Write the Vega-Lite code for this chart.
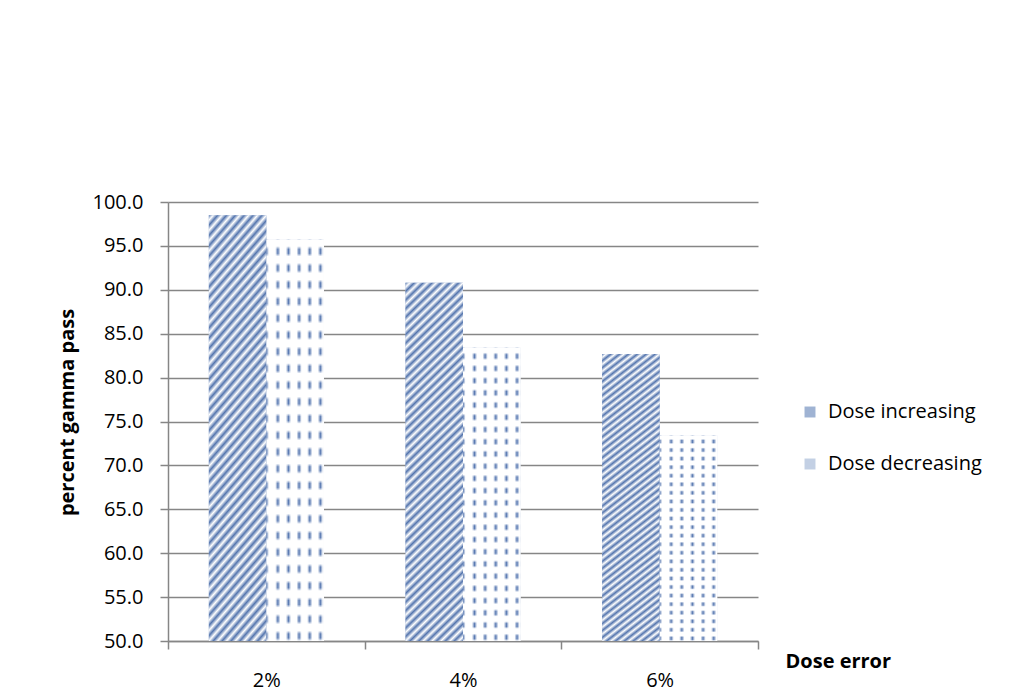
{
  "$schema": "https://vega.github.io/schema/vega-lite/v6.json",
  "width": 590,
  "height": 439,
  "autosize": {"type": "none"},
  "padding": {"left": 168, "top": 202, "right": 257, "bottom": 59},
  "background": "white",
  "config": {
    "font": "Open Sans",
    "view": {"stroke": null},
    "axis": {"labelColor": "#000000", "titleColor": "#000000"},
    "legend": {"labelColor": "#000000"}
  },
  "data": {
    "values": [
      {"error": "2%", "series": "Dose increasing", "pass": 98.5},
      {"error": "2%", "series": "Dose decreasing", "pass": 95.7},
      {"error": "4%", "series": "Dose increasing", "pass": 90.8},
      {"error": "4%", "series": "Dose decreasing", "pass": 83.4},
      {"error": "6%", "series": "Dose increasing", "pass": 82.7},
      {"error": "6%", "series": "Dose decreasing", "pass": 73.4}
    ]
  },
  "encoding": {
    "x": {
      "field": "error",
      "type": "nominal",
      "sort": ["2%", "4%", "6%"],
      "scale": {"paddingInner": 0, "paddingOuter": 0},
      "axis": {
        "title": "Dose error",
        "titleFontSize": 20,
        "titleFontWeight": "bold",
        "titleX": 617,
        "titleY": 26,
        "titleAlign": "left",
        "titleBaseline": "alphabetic",
        "labelFontSize": 20,
        "labelAngle": 0,
        "labelPadding": 21,
        "tickBand": "extent",
        "tickSize": 8,
        "tickColor": "#868686",
        "tickWidth": 1.5,
        "domainColor": "#868686",
        "domainWidth": 1.5,
        "grid": false
      }
    },
    "xOffset": {
      "field": "series",
      "sort": ["Dose increasing", "Dose decreasing"],
      "scale": {"paddingInner": 0, "paddingOuter": 0.71}
    },
    "y": {
      "field": "pass",
      "type": "quantitative",
      "scale": {"domain": [50, 100], "zero": false, "nice": false},
      "axis": {
        "title": "percent gamma pass",
        "titleFontSize": 20,
        "titleFontWeight": "bold",
        "titleX": -91,
        "titleY": 210,
        "titleAngle": -90,
        "titleAlign": "center",
        "titleBaseline": "bottom",
        "values": [50, 55, 60, 65, 70, 75, 80, 85, 90, 95, 100],
        "format": ".1f",
        "labelFontSize": 20,
        "labelPadding": 17,
        "tickSize": 8,
        "tickColor": "#868686",
        "tickWidth": 1.5,
        "domainColor": "#868686",
        "domainWidth": 1.5,
        "grid": true,
        "gridColor": "#868686",
        "gridWidth": 1.5
      }
    },
    "y2": {"datum": 50}
  },
  "layer": [
    {
      "mark": {"type": "bar"},
      "encoding": {
        "fill": {
          "field": "series",
          "type": "nominal",
          "sort": ["Dose increasing", "Dose decreasing"],
          "scale": {"range": ["#9fb3d3", "#c3d0e4"]},
          "legend": {
            "orient": "none",
            "legendX": 632,
            "legendY": 200,
            "title": null,
            "padding": 0,
            "symbolType": "square",
            "symbolSize": 120,
            "symbolStrokeWidth": 0,
            "labelFontSize": 20,
            "labelOffset": 8,
            "rowPadding": 32
          }
        }
      }
    },
    {
      "mark": {"type": "bar"},
      "encoding": {
        "fill": {
          "condition": {
            "test": "datum.series === 'Dose increasing'",
            "value": {
              "gradient": "linear",
              "x1": 0, "y1": 0, "x2": 0.1764, "y2": 1.129,
              "stops": [
                {"offset": 0, "color": "#5475ae"}, {"offset": 0.0104, "color": "#ffffff"},
                {"offset": 0.0208, "color": "#5475ae"}, {"offset": 0.0313, "color": "#ffffff"},
                {"offset": 0.0417, "color": "#5475ae"}, {"offset": 0.0521, "color": "#ffffff"},
                {"offset": 0.0625, "color": "#5475ae"}, {"offset": 0.0729, "color": "#ffffff"},
                {"offset": 0.0833, "color": "#5475ae"}, {"offset": 0.0938, "color": "#ffffff"},
                {"offset": 0.1042, "color": "#5475ae"}, {"offset": 0.1146, "color": "#ffffff"},
                {"offset": 0.125, "color": "#5475ae"}, {"offset": 0.1354, "color": "#ffffff"},
                {"offset": 0.1458, "color": "#5475ae"}, {"offset": 0.1563, "color": "#ffffff"},
                {"offset": 0.1667, "color": "#5475ae"}, {"offset": 0.1771, "color": "#ffffff"},
                {"offset": 0.1875, "color": "#5475ae"}, {"offset": 0.1979, "color": "#ffffff"},
                {"offset": 0.2083, "color": "#5475ae"}, {"offset": 0.2188, "color": "#ffffff"},
                {"offset": 0.2292, "color": "#5475ae"}, {"offset": 0.2396, "color": "#ffffff"},
                {"offset": 0.25, "color": "#5475ae"}, {"offset": 0.2604, "color": "#ffffff"},
                {"offset": 0.2708, "color": "#5475ae"}, {"offset": 0.2813, "color": "#ffffff"},
                {"offset": 0.2917, "color": "#5475ae"}, {"offset": 0.3021, "color": "#ffffff"},
                {"offset": 0.3125, "color": "#5475ae"}, {"offset": 0.3229, "color": "#ffffff"},
                {"offset": 0.3333, "color": "#5475ae"}, {"offset": 0.3438, "color": "#ffffff"},
                {"offset": 0.3542, "color": "#5475ae"}, {"offset": 0.3646, "color": "#ffffff"},
                {"offset": 0.375, "color": "#5475ae"}, {"offset": 0.3854, "color": "#ffffff"},
                {"offset": 0.3958, "color": "#5475ae"}, {"offset": 0.4063, "color": "#ffffff"},
                {"offset": 0.4167, "color": "#5475ae"}, {"offset": 0.4271, "color": "#ffffff"},
                {"offset": 0.4375, "color": "#5475ae"}, {"offset": 0.4479, "color": "#ffffff"},
                {"offset": 0.4583, "color": "#5475ae"}, {"offset": 0.4688, "color": "#ffffff"},
                {"offset": 0.4792, "color": "#5475ae"}, {"offset": 0.4896, "color": "#ffffff"},
                {"offset": 0.5, "color": "#5475ae"}, {"offset": 0.5104, "color": "#ffffff"},
                {"offset": 0.5208, "color": "#5475ae"}, {"offset": 0.5313, "color": "#ffffff"},
                {"offset": 0.5417, "color": "#5475ae"}, {"offset": 0.5521, "color": "#ffffff"},
                {"offset": 0.5625, "color": "#5475ae"}, {"offset": 0.5729, "color": "#ffffff"},
                {"offset": 0.5833, "color": "#5475ae"}, {"offset": 0.5938, "color": "#ffffff"},
                {"offset": 0.6042, "color": "#5475ae"}, {"offset": 0.6146, "color": "#ffffff"},
                {"offset": 0.625, "color": "#5475ae"}, {"offset": 0.6354, "color": "#ffffff"},
                {"offset": 0.6458, "color": "#5475ae"}, {"offset": 0.6563, "color": "#ffffff"},
                {"offset": 0.6667, "color": "#5475ae"}, {"offset": 0.6771, "color": "#ffffff"},
                {"offset": 0.6875, "color": "#5475ae"}, {"offset": 0.6979, "color": "#ffffff"},
                {"offset": 0.7083, "color": "#5475ae"}, {"offset": 0.7188, "color": "#ffffff"},
                {"offset": 0.7292, "color": "#5475ae"}, {"offset": 0.7396, "color": "#ffffff"},
                {"offset": 0.75, "color": "#5475ae"}, {"offset": 0.7604, "color": "#ffffff"},
                {"offset": 0.7708, "color": "#5475ae"}, {"offset": 0.7813, "color": "#ffffff"},
                {"offset": 0.7917, "color": "#5475ae"}, {"offset": 0.8021, "color": "#ffffff"},
                {"offset": 0.8125, "color": "#5475ae"}, {"offset": 0.8229, "color": "#ffffff"},
                {"offset": 0.8333, "color": "#5475ae"}, {"offset": 0.8438, "color": "#ffffff"},
                {"offset": 0.8542, "color": "#5475ae"}, {"offset": 0.8646, "color": "#ffffff"},
                {"offset": 0.875, "color": "#5475ae"}, {"offset": 0.8854, "color": "#ffffff"},
                {"offset": 0.8958, "color": "#5475ae"}, {"offset": 0.9063, "color": "#ffffff"},
                {"offset": 0.9167, "color": "#5475ae"}, {"offset": 0.9271, "color": "#ffffff"},
                {"offset": 0.9375, "color": "#5475ae"}, {"offset": 0.9479, "color": "#ffffff"},
                {"offset": 0.9583, "color": "#5475ae"}, {"offset": 0.9688, "color": "#ffffff"},
                {"offset": 0.9792, "color": "#5475ae"}, {"offset": 0.9896, "color": "#ffffff"},
                {"offset": 1, "color": "#5475ae"}
              ]
            }
          },
          "value": {
            "gradient": "linear",
            "x1": 0, "y1": 0, "x2": 1, "y2": 0,
            "stops": [
              {"offset": 0, "color": "#5a7ab2"}, {"offset": 0.045, "color": "#ffffff"},
              {"offset": 0.155, "color": "#ffffff"}, {"offset": 0.2, "color": "#5a7ab2"},
              {"offset": 0.245, "color": "#ffffff"}, {"offset": 0.34, "color": "#ffffff"},
              {"offset": 0.385, "color": "#5a7ab2"}, {"offset": 0.43, "color": "#ffffff"},
              {"offset": 0.525, "color": "#ffffff"}, {"offset": 0.57, "color": "#5a7ab2"},
              {"offset": 0.615, "color": "#ffffff"}, {"offset": 0.71, "color": "#ffffff"},
              {"offset": 0.755, "color": "#5a7ab2"}, {"offset": 0.8, "color": "#ffffff"},
              {"offset": 0.895, "color": "#ffffff"}, {"offset": 0.94, "color": "#5a7ab2"},
              {"offset": 0.985, "color": "#ffffff"}, {"offset": 1, "color": "#ffffff"}
            ]
          }
        }
      }
    },
    {
      "transform": [{"filter": "datum.series === 'Dose decreasing'"}],
      "mark": {
        "type": "bar",
        "fill": {
          "gradient": "linear",
          "x1": 0, "y1": 0, "x2": 0, "y2": 1,
          "stops": [
            {"offset": 0, "color": "#ffffff"}, {"offset": 0.016, "color": "#ffffff"}, {"offset": 0.024, "color": "rgba(255,255,255,0)"}, {"offset": 0.034, "color": "rgba(255,255,255,0)"},
            {"offset": 0.0417, "color": "#ffffff"}, {"offset": 0.0577, "color": "#ffffff"}, {"offset": 0.0657, "color": "rgba(255,255,255,0)"}, {"offset": 0.0757, "color": "rgba(255,255,255,0)"},
            {"offset": 0.0833, "color": "#ffffff"}, {"offset": 0.0993, "color": "#ffffff"}, {"offset": 0.1073, "color": "rgba(255,255,255,0)"}, {"offset": 0.1173, "color": "rgba(255,255,255,0)"},
            {"offset": 0.125, "color": "#ffffff"}, {"offset": 0.141, "color": "#ffffff"}, {"offset": 0.149, "color": "rgba(255,255,255,0)"}, {"offset": 0.159, "color": "rgba(255,255,255,0)"},
            {"offset": 0.1667, "color": "#ffffff"}, {"offset": 0.1827, "color": "#ffffff"}, {"offset": 0.1907, "color": "rgba(255,255,255,0)"}, {"offset": 0.2007, "color": "rgba(255,255,255,0)"},
            {"offset": 0.2083, "color": "#ffffff"}, {"offset": 0.2243, "color": "#ffffff"}, {"offset": 0.2323, "color": "rgba(255,255,255,0)"}, {"offset": 0.2423, "color": "rgba(255,255,255,0)"},
            {"offset": 0.25, "color": "#ffffff"}, {"offset": 0.266, "color": "#ffffff"}, {"offset": 0.274, "color": "rgba(255,255,255,0)"}, {"offset": 0.284, "color": "rgba(255,255,255,0)"},
            {"offset": 0.2917, "color": "#ffffff"}, {"offset": 0.3077, "color": "#ffffff"}, {"offset": 0.3157, "color": "rgba(255,255,255,0)"}, {"offset": 0.3257, "color": "rgba(255,255,255,0)"},
            {"offset": 0.3333, "color": "#ffffff"}, {"offset": 0.3493, "color": "#ffffff"}, {"offset": 0.3573, "color": "rgba(255,255,255,0)"}, {"offset": 0.3673, "color": "rgba(255,255,255,0)"},
            {"offset": 0.375, "color": "#ffffff"}, {"offset": 0.391, "color": "#ffffff"}, {"offset": 0.399, "color": "rgba(255,255,255,0)"}, {"offset": 0.409, "color": "rgba(255,255,255,0)"},
            {"offset": 0.4167, "color": "#ffffff"}, {"offset": 0.4327, "color": "#ffffff"}, {"offset": 0.4407, "color": "rgba(255,255,255,0)"}, {"offset": 0.4507, "color": "rgba(255,255,255,0)"},
            {"offset": 0.4583, "color": "#ffffff"}, {"offset": 0.4743, "color": "#ffffff"}, {"offset": 0.4823, "color": "rgba(255,255,255,0)"}, {"offset": 0.4923, "color": "rgba(255,255,255,0)"},
            {"offset": 0.5, "color": "#ffffff"}, {"offset": 0.516, "color": "#ffffff"}, {"offset": 0.524, "color": "rgba(255,255,255,0)"}, {"offset": 0.534, "color": "rgba(255,255,255,0)"},
            {"offset": 0.5417, "color": "#ffffff"}, {"offset": 0.5577, "color": "#ffffff"}, {"offset": 0.5657, "color": "rgba(255,255,255,0)"}, {"offset": 0.5757, "color": "rgba(255,255,255,0)"},
            {"offset": 0.5833, "color": "#ffffff"}, {"offset": 0.5993, "color": "#ffffff"}, {"offset": 0.6073, "color": "rgba(255,255,255,0)"}, {"offset": 0.6173, "color": "rgba(255,255,255,0)"},
            {"offset": 0.625, "color": "#ffffff"}, {"offset": 0.641, "color": "#ffffff"}, {"offset": 0.649, "color": "rgba(255,255,255,0)"}, {"offset": 0.659, "color": "rgba(255,255,255,0)"},
            {"offset": 0.6667, "color": "#ffffff"}, {"offset": 0.6827, "color": "#ffffff"}, {"offset": 0.6907, "color": "rgba(255,255,255,0)"}, {"offset": 0.7007, "color": "rgba(255,255,255,0)"},
            {"offset": 0.7083, "color": "#ffffff"}, {"offset": 0.7243, "color": "#ffffff"}, {"offset": 0.7323, "color": "rgba(255,255,255,0)"}, {"offset": 0.7423, "color": "rgba(255,255,255,0)"},
            {"offset": 0.75, "color": "#ffffff"}, {"offset": 0.766, "color": "#ffffff"}, {"offset": 0.774, "color": "rgba(255,255,255,0)"}, {"offset": 0.784, "color": "rgba(255,255,255,0)"},
            {"offset": 0.7917, "color": "#ffffff"}, {"offset": 0.8077, "color": "#ffffff"}, {"offset": 0.8157, "color": "rgba(255,255,255,0)"}, {"offset": 0.8257, "color": "rgba(255,255,255,0)"},
            {"offset": 0.8333, "color": "#ffffff"}, {"offset": 0.8493, "color": "#ffffff"}, {"offset": 0.8573, "color": "rgba(255,255,255,0)"}, {"offset": 0.8673, "color": "rgba(255,255,255,0)"},
            {"offset": 0.875, "color": "#ffffff"}, {"offset": 0.891, "color": "#ffffff"}, {"offset": 0.899, "color": "rgba(255,255,255,0)"}, {"offset": 0.909, "color": "rgba(255,255,255,0)"},
            {"offset": 0.9167, "color": "#ffffff"}, {"offset": 0.9327, "color": "#ffffff"}, {"offset": 0.9407, "color": "rgba(255,255,255,0)"}, {"offset": 0.9507, "color": "rgba(255,255,255,0)"},
            {"offset": 0.9583, "color": "#ffffff"}, {"offset": 0.9743, "color": "#ffffff"}, {"offset": 0.9823, "color": "rgba(255,255,255,0)"}, {"offset": 0.9923, "color": "rgba(255,255,255,0)"},
            {"offset": 1, "color": "#ffffff"}
          ]
        }
      }
    }
  ]
}
